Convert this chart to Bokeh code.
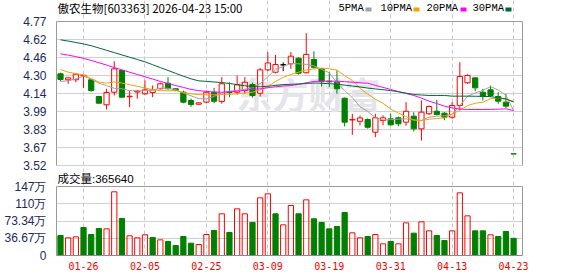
import numpy as np
from bokeh.plotting import figure
from bokeh.models import Range1d, FixedTicker, Label, ColumnDataSource, BoxAnnotation, LinearAxis, Grid
from bokeh.layouts import column
from bokeh.embed import file_html
from bokeh.resources import INLINE

title_text = "傲农生物[603363] 2026-04-23 15:00"

dates = ["01-21", "01-22", "01-23", "01-26", "01-27", "01-28", "01-29", "01-30", "02-02", "02-03",
         "02-04", "02-05", "02-06", "02-09", "02-10", "02-11", "02-12", "02-13", "02-24", "02-25",
         "02-26", "02-27", "03-02", "03-03", "03-04", "03-05", "03-06", "03-09", "03-10", "03-11",
         "03-12", "03-13", "03-16", "03-17", "03-18", "03-19", "03-20", "03-23", "03-24", "03-25",
         "03-26", "03-27", "03-30", "03-31", "04-01", "04-02", "04-03", "04-07", "04-08", "04-09",
         "04-10", "04-13", "04-14", "04-15", "04-16", "04-17", "04-20", "04-21", "04-22", "04-23"]

opens = [4.316, 4.264, 4.264, 4.298, 4.264, 4.119, 4.047, 4.156, 4.345, 4.117,
         4.158, 4.142, 4.154, 4.186, 4.234, 4.186, 4.156, 4.084, 4.052, 4.070,
         4.156, 4.076, 4.159, 4.156, 4.171, 4.223, 4.147, 4.350, 4.330, 4.394,
         4.403, 4.451, 4.325, 4.440, 4.359, 4.252, 4.243, 4.104, 3.915, 3.904,
         3.919, 3.809, 3.910, 3.925, 3.934, 3.896, 3.948, 3.838, 3.969, 3.991,
         3.974, 3.939, 4.041, 4.238, 4.281, 4.156, 4.177, 4.119, 4.070, 3.622]
highs = [4.325, 4.284, 4.318, 4.305, 4.270, 4.125, 4.186, 4.425, 4.345, 4.171,
         4.177, 4.258, 4.214, 4.240, 4.287, 4.190, 4.170, 4.100, 4.070, 4.170,
         4.194, 4.287, 4.242, 4.301, 4.287, 4.240, 4.368, 4.504, 4.480, 4.416,
         4.504, 4.460, 4.669, 4.512, 4.368, 4.330, 4.345, 4.110, 3.969, 3.954,
         3.930, 3.969, 3.955, 3.969, 3.945, 4.070, 3.983, 4.084, 4.040, 4.090,
         3.983, 4.070, 4.417, 4.310, 4.281, 4.186, 4.214, 4.156, 4.142, 3.622]
lows = [4.252, 4.229, 4.243, 4.194, 4.160, 4.058, 4.006, 4.128, 4.105, 4.026,
        4.099, 4.134, 4.113, 4.180, 4.180, 4.165, 4.060, 4.030, 4.045, 4.060,
        4.061, 4.056, 4.113, 4.136, 4.142, 4.110, 4.119, 4.339, 4.320, 4.339,
        4.359, 4.310, 4.320, 4.360, 4.206, 4.200, 4.142, 3.859, 3.786, 3.867,
        3.840, 3.766, 3.870, 3.865, 3.860, 3.865, 3.815, 3.737, 3.960, 3.955,
        3.913, 3.925, 3.997, 4.230, 4.165, 4.084, 4.113, 4.056, 4.020, 3.620]
closes = [4.267, 4.281, 4.313, 4.303, 4.171, 4.061, 4.154, 4.359, 4.113, 4.121,
          4.165, 4.177, 4.177, 4.229, 4.186, 4.174, 4.070, 4.050, 4.064, 4.156,
          4.078, 4.229, 4.153, 4.220, 4.243, 4.128, 4.350, 4.410, 4.397, 4.394,
          4.469, 4.321, 4.484, 4.373, 4.252, 4.246, 4.186, 3.896, 3.920, 3.933,
          3.852, 3.934, 3.934, 3.873, 3.882, 3.991, 3.838, 3.983, 4.032, 3.963,
          3.939, 4.041, 4.293, 4.301, 4.194, 4.122, 4.128, 4.078, 4.035, 3.620]

# volume in 万 (10,000 shares)
volumes = [42.5, 37.6, 39.7, 59.5, 44.6, 57.4, 56.7, 135.4, 78.7, 41.8,
           37.6, 44.0, 38.3, 33.3, 29.8, 21.3, 40.4, 26.2, 23.4, 44.6,
           53.1, 88.6, 48.9, 99.2, 88.6, 70.2, 122.6, 131.1, 88.6, 65.2,
           106.3, 88.6, 118.3, 78.0, 70.2, 56.7, 61.6, 91.4, 48.2, 37.6,
           40.4, 44.6, 24.8, 29.8, 24.8, 69.4, 47.5, 71.5, 52.4, 42.5,
           31.9, 52.4, 133.2, 84.3, 52.4, 52.4, 44.0, 40.4, 51.0, 36.564]
vol_up = [0, 1, 1, 0, 0, 0, 1, 1, 0, 1,
          1, 1, 0, 1, 0, 0, 0, 0, 1, 1,
          0, 1, 0, 1, 1, 0, 1, 1, 0, 1,
          1, 0, 1, 0, 0, 0, 0, 0, 1, 1,
          0, 1, 1, 0, 1, 1, 0, 1, 1, 0,
          0, 1, 1, 1, 0, 0, 1, 0, 0, 0]

ma5 = [4.250, 4.255, 4.272, 4.295, 4.270, 4.234, 4.214, 4.190, 4.186, 4.170,
       4.168, 4.170, 4.175, 4.192, 4.190, 4.178, 4.150, 4.125, 4.100, 4.099,
       4.120, 4.150, 4.165, 4.172, 4.182, 4.195, 4.230, 4.290, 4.355, 4.380,
       4.405, 4.403, 4.398, 4.385, 4.355, 4.325, 4.240, 4.170, 4.110, 4.030,
       3.990, 3.935, 3.915, 3.918, 3.922, 3.925, 3.915, 3.912, 3.940, 3.948,
       3.952, 3.965, 4.040, 4.120, 4.150, 4.172, 4.205, 4.175, 4.130, 3.997]
ma10 = [4.353, 4.330, 4.318, 4.305, 4.275, 4.245, 4.235, 4.245, 4.236, 4.222,
        4.208, 4.192, 4.180, 4.170, 4.168, 4.170, 4.152, 4.142, 4.136, 4.134,
        4.134, 4.136, 4.138, 4.142, 4.148, 4.156, 4.175, 4.205, 4.250, 4.285,
        4.310, 4.330, 4.350, 4.358, 4.365, 4.360, 4.348, 4.300, 4.258, 4.190,
        4.140, 4.095, 4.060, 4.010, 3.975, 3.945, 3.915, 3.910, 3.922, 3.928,
        3.933, 3.965, 4.000, 4.040, 4.060, 4.070, 4.100, 4.108, 4.095, 4.078]
ma20 = [4.489, 4.478, 4.465, 4.450, 4.432, 4.412, 4.392, 4.370, 4.350, 4.330,
        4.310, 4.290, 4.270, 4.250, 4.232, 4.214, 4.198, 4.180, 4.170, 4.163,
        4.158, 4.156, 4.160, 4.165, 4.172, 4.180, 4.186, 4.195, 4.203, 4.210,
        4.214, 4.225, 4.238, 4.250, 4.252, 4.252, 4.252, 4.248, 4.243, 4.238,
        4.234, 4.215, 4.198, 4.180, 4.162, 4.145, 4.128, 4.105, 4.078, 4.058,
        4.035, 4.020, 4.010, 4.006, 4.006, 4.006, 4.007, 4.009, 4.012, 3.997]
ma30 = [4.611, 4.600, 4.588, 4.575, 4.560, 4.540, 4.520, 4.500, 4.480, 4.460,
        4.440, 4.420, 4.395, 4.370, 4.345, 4.320, 4.295, 4.272, 4.255, 4.250,
        4.245, 4.240, 4.232, 4.222, 4.212, 4.205, 4.203, 4.208, 4.215, 4.222,
        4.225, 4.228, 4.232, 4.236, 4.234, 4.230, 4.226, 4.218, 4.210, 4.202,
        4.192, 4.185, 4.178, 4.170, 4.160, 4.148, 4.136, 4.132, 4.128, 4.128,
        4.128, 4.122, 4.122, 4.122, 4.121, 4.120, 4.118, 4.108, 4.098, 4.070]

price_tick_labels = ["3.52", "3.67", "3.83", "3.99", "4.14", "4.30", "4.46", "4.62", "4.77"]
price_min, price_max = 3.52, 4.77
vol_tick_labels = ["0", "36.67万", "73.34万", "110万", "147万"]
vol_max = 146.68
date_ticks = ["01-26", "02-05", "02-25", "03-09", "03-19", "03-31", "04-13", "04-23"]
legend_names = ["5PMA", "10PMA", "20PMA", "30PMA"]

for arr in (opens, highs, lows, closes, volumes, vol_up, ma5, ma10, ma20, ma30):
    assert len(arr) == len(dates), len(arr)

UP, DOWN, FLAT = "#ff0000", "#008000", "#000000"
ma_colors = ["#a0a0a0", "#f5a300", "#ff00ff", "#00663a"]
BORDER = "#9a9a9a"
W = 578

n = len(dates)
xs = np.arange(n)
o = np.array(opens); c = np.array(closes); h = np.array(highs); l = np.array(lows)
col = np.where(c > o, UP, np.where(c < o, DOWN, FLAT))
fa = np.where(c > o, 0.0, 1.0)
src = ColumnDataSource(dict(x=xs, h=h, l=l, top=np.maximum(o, c), bot=np.minimum(o, c), color=col, fa=fa))

xr = Range1d(-0.52, n + 0.16)
price_ticks = list(np.linspace(price_min, price_max, len(price_tick_labels)))
date_idx = [dates.index(d) for d in date_ticks]


def style_left_axis(ax):
    ax.axis_line_color = BORDER
    ax.major_tick_line_color = None
    ax.minor_tick_line_color = None
    ax.major_label_standoff = 4
    ax.major_label_text_font = "Liberation Sans"
    ax.major_label_text_font_size = "12px"
    ax.major_label_text_color = "#1b2a5e"


# ---------- price panel: frame spans the whole canvas (0..172); price area is 21..165 ----------
P1_H, PAD_TOP, PAD_BOT = 172, 21, 7
ppx = 144 / (price_max - price_min)          # pixels per price unit
bnd1 = (price_min - 1e-6, price_max + 1e-6)
p1 = figure(width=W, height=P1_H, x_range=xr,
            y_range=Range1d(price_min - PAD_BOT / ppx, price_max + PAD_TOP / ppx),
            output_backend="svg", toolbar_location=None, x_axis_location=None,
            min_border_left=56, min_border_right=56, min_border_top=0, min_border_bottom=0)
p1.outline_line_color = None
p1.yaxis.ticker = FixedTicker(ticks=price_ticks)
p1.yaxis.major_label_overrides = {t: s for t, s in zip(price_ticks, price_tick_labels)}
p1.yaxis.bounds = bnd1
style_left_axis(p1.yaxis[0])
p1.ygrid.grid_line_color = "#d0d0d0"
p1.xgrid.ticker = FixedTicker(ticks=date_idx)
p1.xgrid.bounds = bnd1
p1.xgrid.grid_line_color = "#c8c8c8"
p1.xgrid.grid_line_dash = "4 3"
p1.add_layout(LinearAxis(ticker=FixedTicker(ticks=[]), bounds=bnd1, axis_line_color=BORDER,
                         major_tick_line_color=None, minor_tick_line_color=None,
                         major_label_text_font_size="0px"), "right")
p1.add_layout(Grid(dimension=1, ticker=FixedTicker(ticks=[price_max]), grid_line_color=BORDER))

p1.add_layout(Label(x=252, y=P1_H - 92, x_units="screen", y_units="screen", text="东方财富",
                    text_font="Noto Sans CJK SC", text_font_size="36px", text_font_style="bold",
                    text_color="#e4e4ea", text_align="center", text_baseline="middle", level="underlay"))

p1.segment(x0="x", y0="h", x1="x", y1="top", color="color", line_width=1, source=src)
p1.segment(x0="x", y0="bot", x1="x", y1="l", color="color", line_width=1, source=src)
p1.vbar(x="x", width=0.68, top="top", bottom="bot", fill_color="color", fill_alpha="fa",
        line_color="color", line_width=1, source=src)
for arr, cc in zip((ma5, ma10, ma20, ma30), ma_colors):
    p1.line(xs, arr, line_color=cc, line_width=1)

# title and legend (screen units: x from canvas x 56, y up from canvas bottom of p1)
ty = P1_H - 7.5
p1.add_layout(Label(x=1, y=ty, x_units="screen", y_units="screen", text=title_text,
                    text_font="Noto Sans CJK SC", text_font_size="11.5px", text_color="#000000",
                    text_baseline="middle"))
leg_x = [282, 324, 370, 416]
sw_x = [309, 357, 404, 449]
for name, lx, sx, cc in zip(legend_names, leg_x, sw_x, ma_colors):
    p1.add_layout(Label(x=lx, y=ty, x_units="screen", y_units="screen", text=name,
                        text_font="Liberation Mono", text_font_size="10.5px", text_color="#000000",
                        text_baseline="middle"))
    p1.add_layout(BoxAnnotation(left=sx, right=sx + 6, bottom=P1_H - 11, top=P1_H - 7,
                                left_units="screen", right_units="screen",
                                bottom_units="screen", top_units="screen",
                                fill_color=cc, fill_alpha=1, line_color=None))

# ---------- volume panel: canvas 172..276, frame 172..255, volume area 186..255 ----------
VPAD_TOP, VOL_PX = 14, 69
vpx = VOL_PX / vol_max
bnd2 = (-1e-6, vol_max + 1e-6)
vcol = [UP if u else DOWN for u in vol_up]
vfa = [0.0 if u else 1.0 for u in vol_up]
vsrc = ColumnDataSource(dict(x=xs, v=volumes, color=vcol, fa=vfa))
p2 = figure(width=W, height=104, x_range=xr, y_range=Range1d(0, vol_max + VPAD_TOP / vpx),
            output_backend="svg", toolbar_location=None,
            min_border_left=56, min_border_right=56, min_border_top=0, min_border_bottom=21)
p2.outline_line_color = None
vt = list(np.linspace(0, vol_max, len(vol_tick_labels)))
p2.yaxis.ticker = FixedTicker(ticks=vt)
p2.yaxis.major_label_overrides = {t: s for t, s in zip(vt, vol_tick_labels)}
p2.yaxis.bounds = bnd2
style_left_axis(p2.yaxis[0])
p2.add_layout(LinearAxis(ticker=FixedTicker(ticks=[]), bounds=bnd2, axis_line_color=BORDER,
                         major_tick_line_color=None, minor_tick_line_color=None,
                         major_label_text_font_size="0px"), "right")
p2.xaxis.ticker = FixedTicker(ticks=date_idx)
p2.xaxis.major_label_overrides = {i: d for i, d in zip(date_idx, date_ticks)}
p2.xaxis.axis_line_color = "#8a8a8a"
p2.xaxis.major_tick_line_color = None
p2.xaxis.minor_tick_line_color = None
p2.xaxis.major_label_standoff = 0
p2.xaxis.major_label_text_font = "DejaVu Sans Mono"
p2.xaxis.major_label_text_font_size = "10px"
p2.xaxis.major_label_text_color = "#ff0000"
p2.ygrid.grid_line_color = "#d0d0d0"
p2.xgrid.bounds = bnd2
p2.xgrid.grid_line_color = "#c8c8c8"
p2.xgrid.grid_line_dash = "4 3"
p2.add_layout(Grid(dimension=1, ticker=FixedTicker(ticks=[vol_max]), grid_line_color=BORDER))
p2.vbar(x="x", width=0.68, top="v", bottom=0, fill_color="color", fill_alpha="fa",
        line_color="color", line_width=1, source=vsrc)
p2.add_layout(Label(x=1, y=VOL_PX + 7.5, x_units="screen", y_units="screen",
                    text="成交量:%d" % int(round(volumes[-1] * 10000)),
                    text_font="'Liberation Sans', 'Noto Sans CJK SC'", text_font_size="11.5px",
                    text_color="#000000", text_baseline="middle"))

layout = column(p1, p2, spacing=0)
open("out.html", "w").write(file_html(layout, INLINE))
